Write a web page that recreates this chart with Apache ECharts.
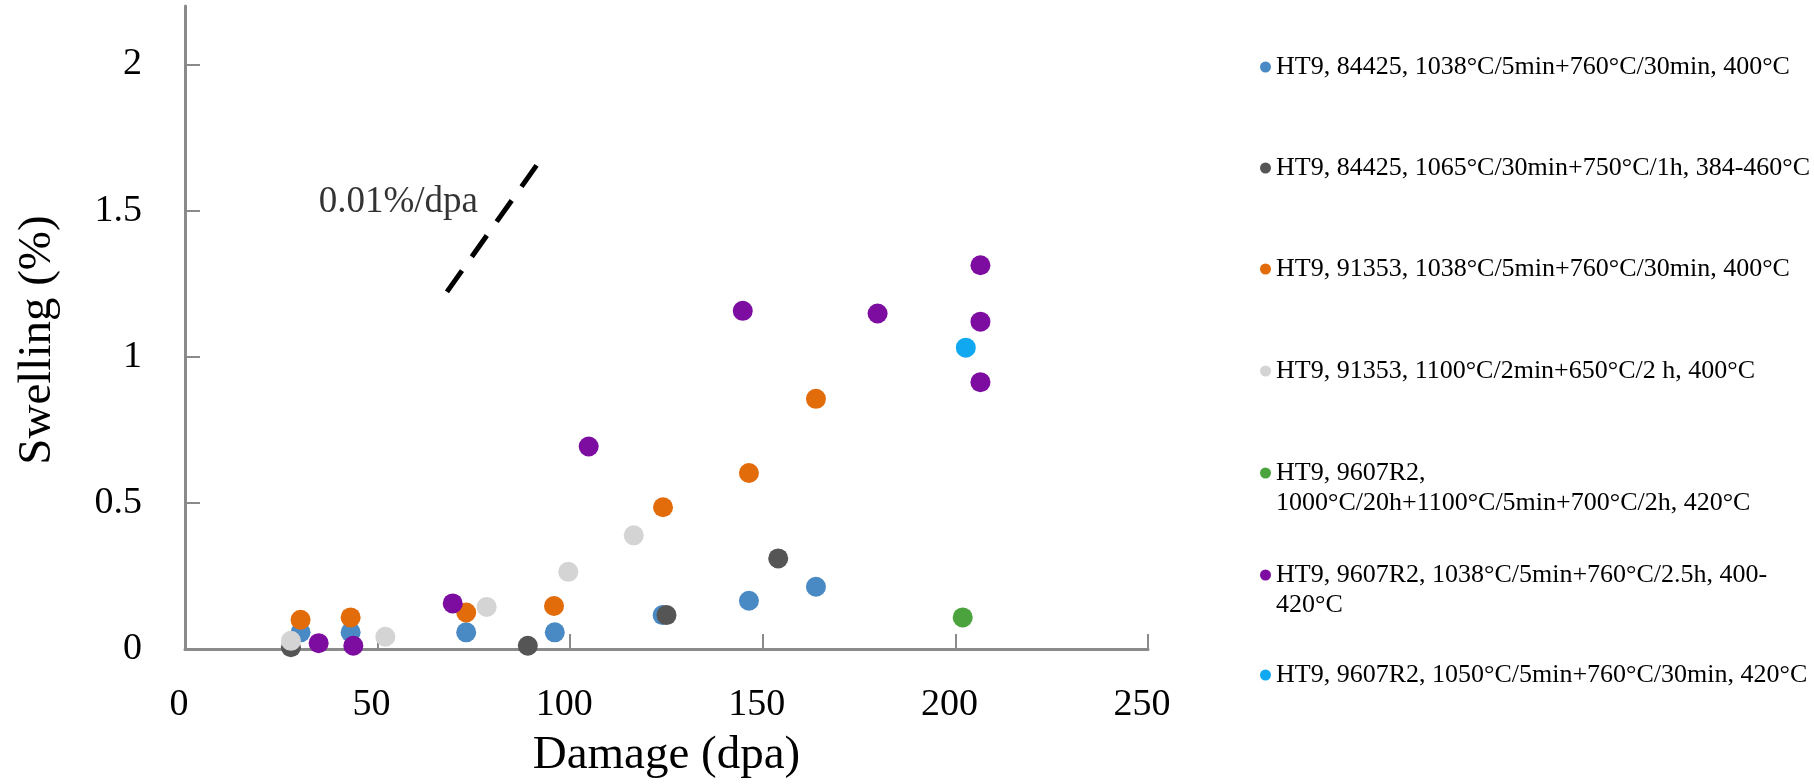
<!DOCTYPE html>
<html>
<head>
<meta charset="utf-8">
<script src="https://cdn.jsdelivr.net/npm/echarts@6/dist/echarts.min.js"></script>
<style>
html,body{margin:0;padding:0;background:#ffffff;}
#chart{width:1814px;height:784px;}
</style>
</head>
<body>
<div id="chart"></div>
<script>
// ---------- DATA ----------
const seriesNames = [
  'HT9, 84425, 1038°C/5min+760°C/30min, 400°C',
  'HT9, 84425, 1065°C/30min+750°C/1h, 384-460°C',
  'HT9, 91353, 1038°C/5min+760°C/30min, 400°C',
  'HT9, 91353, 1100°C/2min+650°C/2 h, 400°C',
  'HT9, 9607R2,\n1000°C/20h+1100°C/5min+700°C/2h, 420°C',
  'HT9, 9607R2, 1038°C/5min+760°C/2.5h, 400-\n420°C',
  'HT9, 9607R2, 1050°C/5min+760°C/30min, 420°C'
];
const seriesColors = ['#4a8ac4', '#555555', '#e26b0a', '#d4d4d4', '#4aa33c', '#7d0ca0', '#10a8f0'];

const damageA = [30, 43, 73, 96, 124, 146.4, 163.8];
const swellingA = [0.057, 0.057, 0.057, 0.057, 0.116, 0.165, 0.213];

const damageB = [27.5, 89, 125, 154];
const swellingB = [0.006, 0.011, 0.116, 0.31];

const damageC = [30, 43, 73, 95.8, 124.1, 146.4, 163.8];
const swellingC = [0.100, 0.108, 0.125, 0.147, 0.485, 0.602, 0.856];

const damageD = [27.5, 52, 78.3, 99.5, 116.5];
const swellingD = [0.028, 0.042, 0.144, 0.264, 0.389];

const damageE = [201.9];
const swellingE = [0.108];

const damageF = [34.7, 43.7, 69.5, 104.8, 144.8, 179.8, 206.5, 206.5, 206.5];
const swellingF = [0.020, 0.011, 0.156, 0.693, 1.157, 1.148, 1.313, 1.12, 0.913];

const damageG = [202.7];
const swellingG = [1.031];

const allDamage = [damageA, damageB, damageC, damageD, damageE, damageF, damageG];
const allSwelling = [swellingA, swellingB, swellingC, swellingD, swellingE, swellingF, swellingG];

const yTickValues = [0, 0.5, 1, 1.5, 2];
const guideDamage = [68, 91.5];
const guideSwelling = [1.222, 1.659];
const guideLabel = '0.01%/dpa';
const guideLabelDamage = 34.7;
const guideLabelSwelling = 1.529;

// ---------- LAYOUT ----------
const FONT = '"Liberation Serif", "Times New Roman", serif';
const legendCentersY = [67, 168, 269, 371, 473, 575, 675];

const pairs = (xs, ys) => xs.map((x, i) => [x, ys[i]]);

const series = seriesNames.map((name, i) => ({
  name: name,
  type: 'scatter',
  symbol: 'circle',
  symbolSize: 20,
  itemStyle: { color: seriesColors[i], opacity: 1 },
  data: pairs(allDamage[i], allSwelling[i]),
  z: 3 + i
}));

series.push({
  name: 'guide',
  type: 'line',
  data: pairs(guideDamage, guideSwelling),
  symbol: 'none',
  lineStyle: { color: '#000000', width: 5, type: [26, 17], cap: 'butt' },
  silent: true,
  z: 2
});
series.push({
  name: 'guideLabel',
  type: 'scatter',
  symbolSize: 0,
  data: [[guideLabelDamage, guideLabelSwelling]],
  label: {
    show: true,
    position: 'right',
    distance: 0,
    formatter: guideLabel,
    color: '#000000',
    fontFamily: FONT,
    fontSize: 37
  },
  silent: true
});

const legends = seriesNames.map((name, i) => {
  const multi = name.indexOf('\n') >= 0;
  return {
    data: [name],
    orient: 'vertical',
    left: 1260,
    top: legendCentersY[i] - (multi ? 45 : 15),
    padding: 0,
    itemWidth: 11,
    itemHeight: 11,
    icon: 'circle',
    selectedMode: false,
    formatter: function (n) { return multi ? '\n' + n : n; },
    textStyle: {
      fontFamily: FONT,
      fontSize: 26,
      color: '#000000',
      lineHeight: 30
    }
  };
});

const option = {
  backgroundColor: '#ffffff',
  animation: false,
  grid: { left: 185, right: 666, top: 6, bottom: 132, containLabel: false },
  legend: legends,
  xAxis: {
    type: 'value',
    min: 0, max: 250, interval: 50,
    name: 'Damage (dpa)',
    nameLocation: 'middle',
    nameGap: 83,
    nameTextStyle: { fontFamily: FONT, fontSize: 47, color: '#000000' },
    axisLine: { show: true, onZero: true, lineStyle: { color: '#8a8a8a', width: 3 } },
    axisTick: { show: true, inside: true, length: 15, lineStyle: { color: '#8a8a8a', width: 2 } },
    axisLabel: { fontFamily: FONT, fontSize: 38, color: '#000000', margin: 37, padding: [0, 12, 0, 0] },
    splitLine: { show: false }
  },
  yAxis: {
    type: 'value',
    min: 0, max: 2.2, interval: 0.5,
    name: 'Swelling (%)',
    nameLocation: 'middle',
    nameGap: 124,
    nameTextStyle: { fontFamily: FONT, fontSize: 47, color: '#000000', padding: [0, 25, 0, 0] },
    axisLine: { show: true, lineStyle: { color: '#8a8a8a', width: 3 } },
    axisTick: { show: true, inside: true, length: 15, customValues: yTickValues, lineStyle: { color: '#8a8a8a', width: 2 } },
    axisLabel: { fontFamily: FONT, fontSize: 38, color: '#000000', margin: 43, customValues: yTickValues },
    splitLine: { show: false }
  },
  series: series
};

const chart = echarts.init(document.getElementById('chart'), null, { renderer: 'canvas' });
chart.setOption(option);
</script>
</body>
</html>
